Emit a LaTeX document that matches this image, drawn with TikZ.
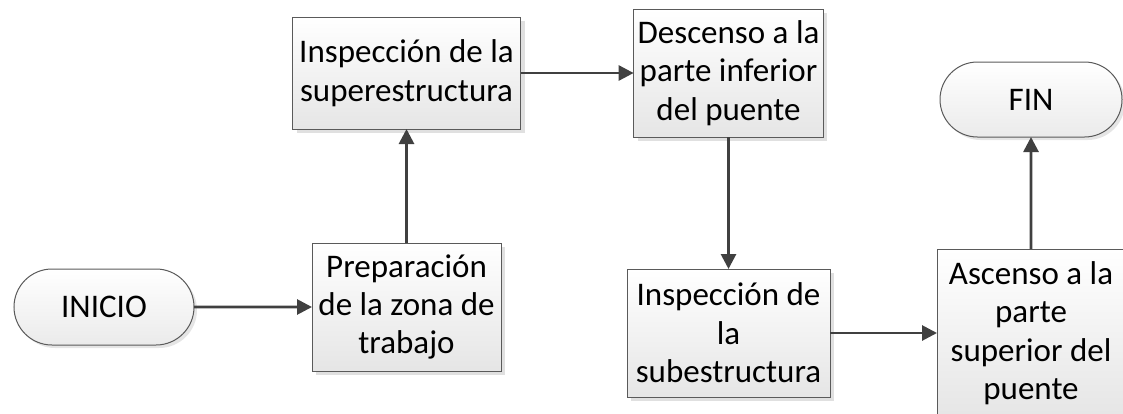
\documentclass[tikz,border=0pt]{standalone}
\usepackage{fontspec}
\setmainfont{Carlito}
\usetikzlibrary{shapes.misc,shadows,arrows.meta}

\definecolor{EdgeGray}{RGB}{64,64,64}
\definecolor{BorderGray}{RGB}{90,90,90}

\begin{document}
\begin{tikzpicture}[x=0.5pt,y=-0.5pt]
  \tikzset{StepStyle/.style = {
    shape         = rectangle,
    draw          = BorderGray,
    line width    = 0.5pt,
    top color     = white,
    bottom color  = black!10,
    text          = black,
    align         = center,
    inner sep     = 2pt,
    outer sep     = 0pt,
    font          = \fontsize{16.5}{19.2}\selectfont,
    drop shadow   = {shadow xshift=2pt, shadow yshift=-2pt, fill=black!12, opacity=1}
    }
  }
  \tikzset{TerminalStyle/.style = {
    shape         = rounded rectangle,
    draw          = BorderGray,
    line width    = 0.5pt,
    top color     = white,
    bottom color  = black!8,
    text          = black,
    inner sep     = 2pt,
    outer sep     = 0pt,
    font          = \fontsize{16.5}{19.2}\selectfont,
    drop shadow   = {shadow xshift=1.5pt, shadow yshift=-1.5pt, fill=black!10, opacity=1}
    }
  }
  \tikzset{FlowStyle/.style = {
    draw          = EdgeGray,
    line width    = 1.4pt,
    -{Triangle[length=7.5pt,width=7.5pt]}
    }
  }

  \useasboundingbox (0,0) rectangle (1123,413);

  \node[TerminalStyle, minimum width=94pt, minimum height=38pt](Inicio) at (104,307) {INICIO};
  \node[StepStyle, minimum width=94.5pt, minimum height=64pt](Prep) at (406.5,307) {Preparación\\de la zona de\\trabajo};
  \node[StepStyle, minimum width=114pt, minimum height=56pt](Super) at (406.5,73) {Inspección de la\\superestructura};
  \node[StepStyle, minimum width=94.5pt, minimum height=64pt](Desc) at (728.5,73) {Descenso a la\\parte inferior\\del puente};
  \node[StepStyle, minimum width=101.5pt, minimum height=64pt](Sub) at (728.5,333) {Inspección de\\la\\subestructura};
  \node[StepStyle, minimum width=94pt, minimum height=84pt](Asc) at (1031,333) {Ascenso a la\\parte\\superior del\\puente};
  \node[TerminalStyle, minimum width=95pt, minimum height=37.5pt](Fin) at (1031,99.5) {FIN};

  \draw[FlowStyle](Inicio) -- (Prep);
  \draw[FlowStyle](Prep) -- (Super);
  \draw[FlowStyle](Super) -- (Desc);
  \draw[FlowStyle](Desc) -- (Sub);
  \draw[FlowStyle](Sub) -- (Asc);
  \draw[FlowStyle](Asc) -- (Fin);

\end{tikzpicture}
\end{document}
